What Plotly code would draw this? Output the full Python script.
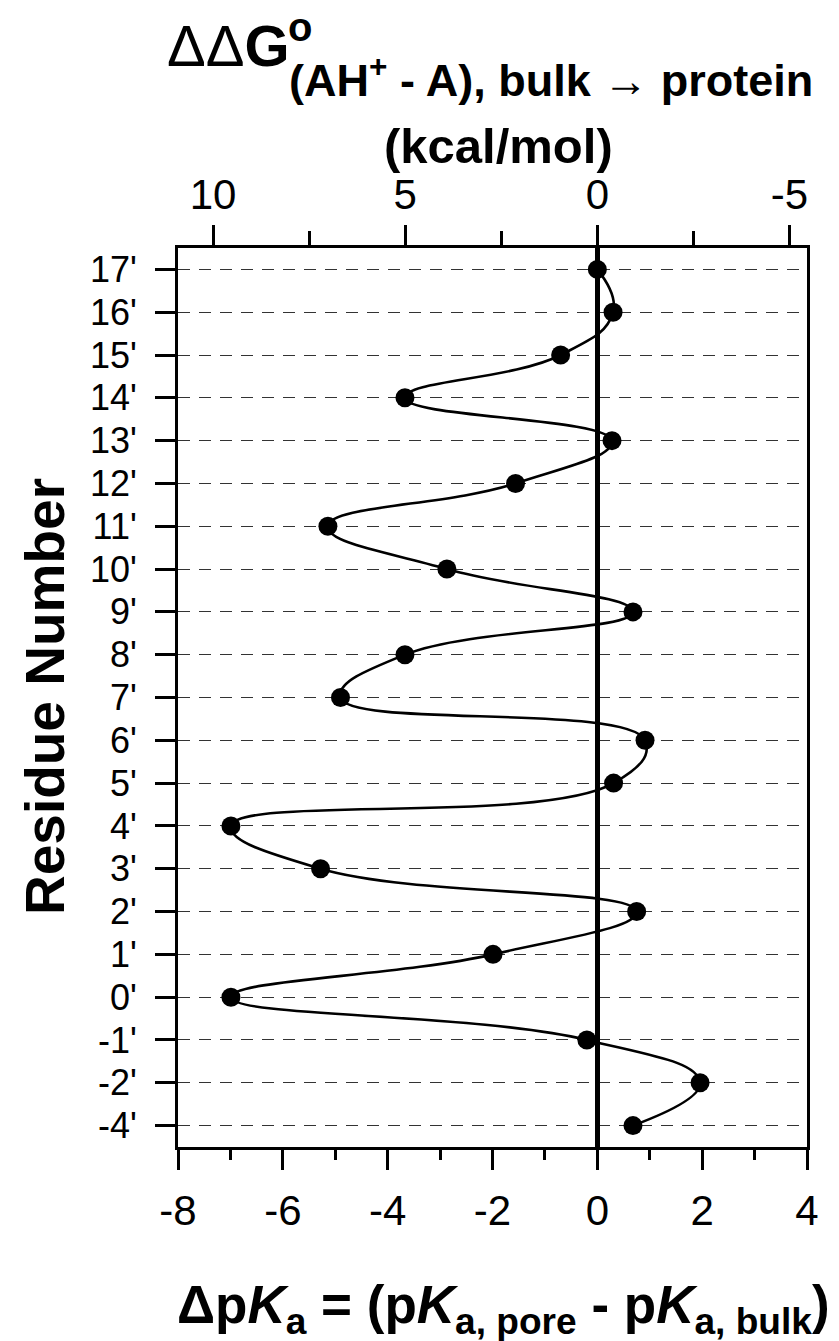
import plotly.graph_objects as go

# ---- data ----
residues = ["17'", "16'", "15'", "14'", "13'", "12'", "11'", "10'", "9'", "8'", "7'",
            "6'", "5'", "4'", "3'", "2'", "1'", "0'", "-1'", "-2'", "-4'"]
dpka = [0.0, 0.30, -0.70, -3.67, 0.28, -1.56, -5.14, -2.87, 0.68, -3.67, -4.90,
        0.91, 0.31, -6.99, -5.28, 0.75, -1.99, -6.99, -0.20, 1.96, 0.68]
bottom_ticks = [-8, -6, -4, -2, 0, 2, 4]
top_ticks = [10, 5, 0, -5]
KCAL_PER_PKA = 1.364

n = len(residues)
ypos = list(range(n - 1, -1, -1))  # 17' at top

W, H = 839, 1341
L, R, T, B = 178, 807, 248, 1147
pw, ph = R - L, B - T


def px(x):
    return (x - L) / pw


def py(y):
    return (B - y) / ph


FONT = "Liberation Sans, Arial, sans-serif"

fig = go.Figure()
fig.add_trace(go.Scatter(
    x=dpka, y=ypos, mode="lines+markers",
    line=dict(color="black", width=2.6, shape="spline", smoothing=1.3),
    marker=dict(color="black", size=19),
    showlegend=False, cliponaxis=False,
))
# invisible trace bound to the top axis so it renders
fig.add_trace(go.Scatter(
    x=[-KCAL_PER_PKA * v for v in dpka], y=ypos, xaxis="x2", mode="markers",
    marker=dict(opacity=0), showlegend=False, hoverinfo="skip",
))

xmin, xmax = -8, 4
fig.update_layout(
    width=W, height=H,
    margin=dict(l=L, r=W - R, t=T, b=H - B),
    paper_bgcolor="white", plot_bgcolor="white",
    font=dict(family=FONT, color="black"),
    xaxis=dict(
        range=[xmin, xmax], tickvals=bottom_ticks, ticktext=[str(t) for t in bottom_ticks],
        ticks="outside", ticklen=20, tickwidth=3, tickcolor="black",
        showline=True, linewidth=3, linecolor="black", mirror=False,
        showgrid=False, zeroline=True, zerolinewidth=5, zerolinecolor="black",
        tickfont=dict(size=42, family=FONT), ticklabelstandoff=5,
        minor=dict(ticks="outside", ticklen=10, tickwidth=3, tickcolor="black", dtick=1, tick0=0),
    ),
    xaxis2=dict(
        overlaying="x", side="top",
        range=[-KCAL_PER_PKA * xmin, -KCAL_PER_PKA * xmax],
        tickvals=top_ticks, ticktext=[str(t) for t in top_ticks],
        ticks="outside", ticklen=20, tickwidth=3, tickcolor="black",
        showline=True, linewidth=3, linecolor="black",
        showgrid=False, zeroline=False,
        tickfont=dict(size=42, family=FONT), ticklabelstandoff=-1,
        minor=dict(ticks="outside", ticklen=14, tickwidth=3, tickcolor="black", dtick=2.5, tick0=0),
    ),
    yaxis=dict(
        range=[-0.5, n - 0.5], tickvals=ypos, ticktext=residues,
        ticks="outside", ticklen=20, tickwidth=3, tickcolor="black",
        showline=True, linewidth=3, linecolor="black", mirror=True,
        showgrid=True, gridcolor="#333333", gridwidth=1.4, griddash="12px,9px",
        zeroline=False,
        tickfont=dict(size=36, family=FONT), ticklabelstandoff=11,
    ),
)

ann = [
    dict(text="ΔΔ<b>G</b>", x=px(165), xanchor="left", y=py(46), yanchor="middle",
         font=dict(size=58)),
    dict(text="<b>o</b>", x=px(300), xanchor="center", y=py(27), yanchor="middle",
         font=dict(size=40)),
    dict(text="<b>(AH<sup>+</sup> - A), bulk → protein</b>", x=px(551), xanchor="center",
         y=py(77), yanchor="middle", font=dict(size=45)),
    dict(text="<b>(kcal/mol)</b>", x=px(498), xanchor="center", y=py(146), yanchor="middle",
         font=dict(size=49)),
    dict(text="<b>Residue Number</b>", textangle=-90, x=px(45), xanchor="center",
         y=py(697), yanchor="middle", font=dict(size=55)),
    dict(text="<b>Δp<i>K</i><sub>a</sub> = (p<i>K</i><sub>a, pore</sub> - p<i>K</i><sub>a, bulk</sub>)</b>",
         x=px(503), xanchor="center", y=py(1308), yanchor="middle", font=dict(size=53)),
]
for a in ann:
    a.update(xref="paper", yref="paper", showarrow=False)
    a["font"].update(family=FONT, color="black")
fig.update_layout(annotations=ann)

fig.write_html("out.html", post_script="document.body.style.margin='0px';",
               config={"displayModeBar": False})
